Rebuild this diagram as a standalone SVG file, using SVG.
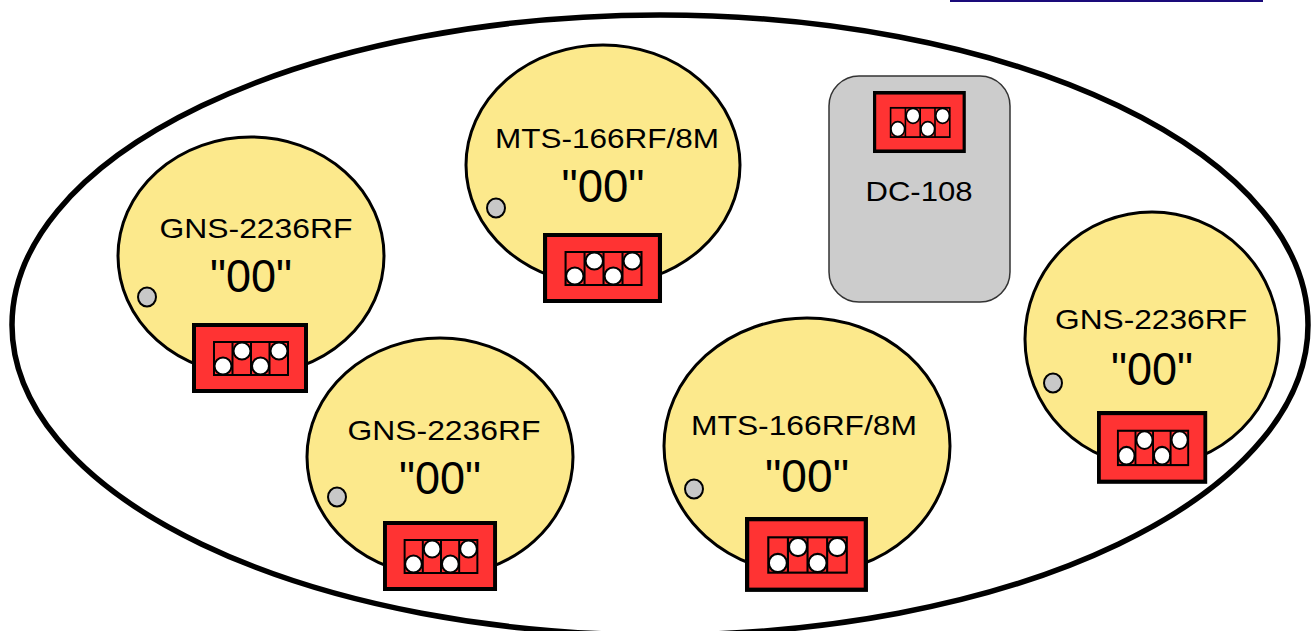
<svg xmlns="http://www.w3.org/2000/svg" xmlns:xlink="http://www.w3.org/1999/xlink" width="1311" height="631" viewBox="0 0 1311 631">
<style>
.unit{fill:#FCE98C;stroke:#000;stroke-width:3}
.dot{fill:#C8C8C8;stroke:#000;stroke-width:2}
.lbl{font-family:"Liberation Sans",Arial,sans-serif;font-size:28px;fill:#000;text-anchor:middle}
.val{font-family:"Liberation Sans",Arial,sans-serif;font-size:46px;fill:#000;text-anchor:middle}
</style>
<defs>
<g id="sw">
<rect x="2" y="2" width="112" height="66" fill="#FF3333" stroke="#000" stroke-width="4"/>
<rect x="22" y="19" width="74" height="33" fill="#FF3333" stroke="#000" stroke-width="2"/>
<line x1="40.5" y1="19" x2="40.5" y2="52" stroke="#000" stroke-width="2"/>
<line x1="59" y1="19" x2="59" y2="52" stroke="#000" stroke-width="2"/>
<line x1="77.5" y1="19" x2="77.5" y2="52" stroke="#000" stroke-width="2"/>
<circle cx="31" cy="43" r="8.5" fill="#fff" stroke="#000" stroke-width="2"/>
<circle cx="50" cy="28" r="8.5" fill="#fff" stroke="#000" stroke-width="2"/>
<circle cx="68.5" cy="43" r="8.5" fill="#fff" stroke="#000" stroke-width="2"/>
<circle cx="87" cy="28" r="8.5" fill="#fff" stroke="#000" stroke-width="2"/>
</g>
</defs>
<rect x="950" y="0" width="313" height="2" fill="#1A0A7A"/>
<ellipse id="enclosure" cx="660" cy="325" rx="648" ry="310" fill="#fff" stroke="#000" stroke-width="5.5"/>
<g id="connectors"></g>
<g id="gns-left">
<ellipse class="unit" cx="251" cy="256" rx="133" ry="119"/>
<ellipse class="dot" cx="147" cy="297" rx="9" ry="9.5"/>
<text class="lbl" x="256" y="238" textLength="193" lengthAdjust="spacingAndGlyphs">GNS-2236RF</text>
<text class="val" x="251" y="292" textLength="82" lengthAdjust="spacingAndGlyphs">"00"</text>
<use xlink:href="#sw" transform="translate(192,323)"/>
</g>
<g id="mts-top">
<ellipse class="unit" cx="603" cy="165" rx="137" ry="120"/>
<ellipse class="dot" cx="496" cy="208" rx="9" ry="9.5"/>
<text class="lbl" x="607" y="148" textLength="224" lengthAdjust="spacingAndGlyphs">MTS-166RF/8M</text>
<text class="val" x="603" y="202" textLength="83" lengthAdjust="spacingAndGlyphs">"00"</text>
<use xlink:href="#sw" transform="translate(543,233) scale(1.026,1)"/>
</g>
<g id="dc-108">
<rect x="829" y="76" width="181" height="226" rx="30" ry="30" fill="#CCCCCC" stroke="#333" stroke-width="1.5"/>
<use xlink:href="#sw" transform="translate(873,91) scale(0.80,0.886)"/>
<text class="lbl" x="919" y="201" textLength="107" lengthAdjust="spacingAndGlyphs">DC-108</text>
</g>
<g id="gns-bottom-left">
<ellipse class="unit" cx="440" cy="457" rx="133" ry="119"/>
<ellipse class="dot" cx="337" cy="497" rx="9" ry="9.5"/>
<text class="lbl" x="444" y="440" textLength="193" lengthAdjust="spacingAndGlyphs">GNS-2236RF</text>
<text class="val" x="440" y="494" textLength="82" lengthAdjust="spacingAndGlyphs">"00"</text>
<use xlink:href="#sw" transform="translate(383,521) scale(0.983,1)"/>
</g>
<g id="mts-bottom">
<ellipse class="unit" cx="807" cy="446" rx="143" ry="128"/>
<ellipse class="dot" cx="694" cy="489" rx="9" ry="9.5"/>
<text class="lbl" x="804" y="435" textLength="226" lengthAdjust="spacingAndGlyphs">MTS-166RF/8M</text>
<text class="val" x="807" y="492" textLength="84" lengthAdjust="spacingAndGlyphs">"00"</text>
<use xlink:href="#sw" transform="translate(745,517) scale(1.06,1.07)"/>
</g>
<g id="gns-right">
<ellipse class="unit" cx="1152" cy="339" rx="127" ry="127"/>
<ellipse class="dot" cx="1053" cy="383" rx="9" ry="9.5"/>
<text class="lbl" x="1151" y="329" textLength="192" lengthAdjust="spacingAndGlyphs">GNS-2236RF</text>
<text class="val" x="1152" y="385" textLength="82" lengthAdjust="spacingAndGlyphs">"00"</text>
<use xlink:href="#sw" transform="translate(1097,411) scale(0.95,1.04)"/>
</g>
</svg>
